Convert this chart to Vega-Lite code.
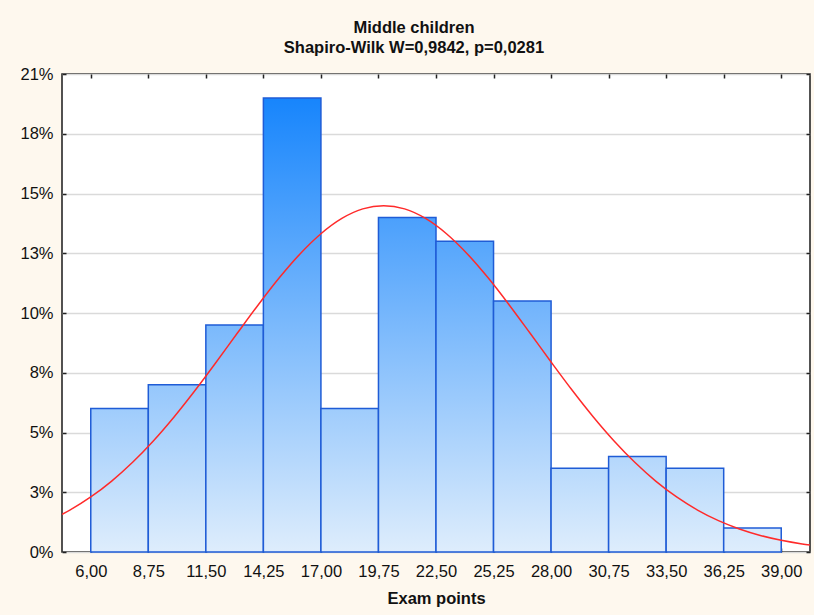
{
  "$schema": "https://vega.github.io/schema/vega-lite/v6.json",
  "width": 748,
  "height": 478,
  "autosize": {"type": "none"},
  "padding": {"left": 62, "top": 74, "right": 4, "bottom": 63},
  "background": "#fef8ee",
  "config": {
    "font": "Liberation Sans",
    "view": {"stroke": "#1a1a1a", "strokeWidth": 1.5, "fill": "white"}
  },
  "title": {
    "text": ["Middle children", "Shapiro-Wilk W=0,9842, p=0,0281"],
    "anchor": "middle",
    "frame": "group",
    "font": "Liberation Sans",
    "fontSize": 16.5,
    "fontWeight": "bold",
    "color": "#111111",
    "lineHeight": 20,
    "baseline": "bottom",
    "offset": -6,
    "dx": -22
  },
  "layer": [
    {
      "data": {
        "values": [
          {"lo": 6, "hi": 8.75, "pct": 0.061856},
          {"lo": 8.75, "hi": 11.5, "pct": 0.072165},
          {"lo": 11.5, "hi": 14.25, "pct": 0.097938},
          {"lo": 14.25, "hi": 17, "pct": 0.195876},
          {"lo": 17, "hi": 19.75, "pct": 0.061856},
          {"lo": 19.75, "hi": 22.5, "pct": 0.14433},
          {"lo": 22.5, "hi": 25.25, "pct": 0.134021},
          {"lo": 25.25, "hi": 28, "pct": 0.108247},
          {"lo": 28, "hi": 30.75, "pct": 0.036082},
          {"lo": 30.75, "hi": 33.5, "pct": 0.041237},
          {"lo": 33.5, "hi": 36.25, "pct": 0.036082},
          {"lo": 36.25, "hi": 39, "pct": 0.010309}
        ]
      },
      "mark": {"type": "rect", "stroke": "#1f5cd6", "strokeWidth": 1.5},
      "encoding": {
        "x": {
          "field": "lo",
          "type": "quantitative",
          "scale": {"domain": [4.625, 40.375], "nice": false, "zero": false},
          "axis": {
            "values": [6, 8.75, 11.5, 14.25, 17, 19.75, 22.5, 25.25, 28, 30.75, 33.5, 36.25, 39],
            "labelExpr": "replace(format(datum.value, '.2f'), '.', ',')",
            "grid": false,
            "domain": false,
            "tickSize": -4,
            "tickColor": "#222222",
            "tickWidth": 1.5,
            "labelPadding": 15,
            "labelFontSize": 16.5,
            "labelColor": "#111111",
            "labelOverlap": false,
            "labelFlush": false,
            "title": "Exam points",
            "titleFontSize": 16.5,
            "titleFontWeight": "bold",
            "titleColor": "#111111",
            "titlePadding": 11
          }
        },
        "x2": {"field": "hi"},
        "y": {
          "field": "pct",
          "type": "quantitative",
          "scale": {"domain": [0, 0.206186], "nice": false},
          "axis": {
            "values": [0, 0.025773, 0.051546, 0.07732, 0.103093, 0.128866, 0.154639, 0.180412, 0.206186],
            "format": ".0%",
            "grid": true,
            "gridColor": "#dadada",
            "gridWidth": 1.5,
            "domain": false,
            "tickSize": -4,
            "tickColor": "#222222",
            "tickWidth": 1.5,
            "labelPadding": 13,
            "labelFontSize": 16.5,
            "labelColor": "#111111",
            "labelOverlap": false,
            "labelFlush": false,
            "title": null
          }
        },
        "y2": {"datum": 0},
        "fill": {
          "condition": [
            {"test": "datum.lo == 6", "value": {"gradient": "linear", "x1": 0, "y1": 0, "x2": 0, "y2": 1, "stops": [{"offset": 0, "color": "#9fccfc"}, {"offset": 1, "color": "#deedfc"}]}},
            {"test": "datum.lo == 8.75", "value": {"gradient": "linear", "x1": 0, "y1": 0, "x2": 0, "y2": 1, "stops": [{"offset": 0, "color": "#95c7fc"}, {"offset": 1, "color": "#deedfc"}]}},
            {"test": "datum.lo == 11.5", "value": {"gradient": "linear", "x1": 0, "y1": 0, "x2": 0, "y2": 1, "stops": [{"offset": 0, "color": "#7ab9fc"}, {"offset": 1, "color": "#deedfc"}]}},
            {"test": "datum.lo == 14.25", "value": {"gradient": "linear", "x1": 0, "y1": 0, "x2": 0, "y2": 1, "stops": [{"offset": 0, "color": "#1785fc"}, {"offset": 1, "color": "#deedfc"}]}},
            {"test": "datum.lo == 17", "value": {"gradient": "linear", "x1": 0, "y1": 0, "x2": 0, "y2": 1, "stops": [{"offset": 0, "color": "#9fccfc"}, {"offset": 1, "color": "#deedfc"}]}},
            {"test": "datum.lo == 19.75", "value": {"gradient": "linear", "x1": 0, "y1": 0, "x2": 0, "y2": 1, "stops": [{"offset": 0, "color": "#4ba0fc"}, {"offset": 1, "color": "#deedfc"}]}},
            {"test": "datum.lo == 22.5", "value": {"gradient": "linear", "x1": 0, "y1": 0, "x2": 0, "y2": 1, "stops": [{"offset": 0, "color": "#56a6fc"}, {"offset": 1, "color": "#deedfc"}]}},
            {"test": "datum.lo == 25.25", "value": {"gradient": "linear", "x1": 0, "y1": 0, "x2": 0, "y2": 1, "stops": [{"offset": 0, "color": "#70b3fc"}, {"offset": 1, "color": "#deedfc"}]}},
            {"test": "datum.lo == 28", "value": {"gradient": "linear", "x1": 0, "y1": 0, "x2": 0, "y2": 1, "stops": [{"offset": 0, "color": "#b9dafc"}, {"offset": 1, "color": "#deedfc"}]}},
            {"test": "datum.lo == 30.75", "value": {"gradient": "linear", "x1": 0, "y1": 0, "x2": 0, "y2": 1, "stops": [{"offset": 0, "color": "#b4d7fc"}, {"offset": 1, "color": "#deedfc"}]}},
            {"test": "datum.lo == 33.5", "value": {"gradient": "linear", "x1": 0, "y1": 0, "x2": 0, "y2": 1, "stops": [{"offset": 0, "color": "#b9dafc"}, {"offset": 1, "color": "#deedfc"}]}}
          ],
          "value": {"gradient": "linear", "x1": 0, "y1": 0, "x2": 0, "y2": 1, "stops": [{"offset": 0, "color": "#d4e8fc"}, {"offset": 1, "color": "#deedfc"}]}
        }
      }
    },
    {
      "data": {
        "values": [
          {"x": 4.625, "y": 0.01626},
          {"x": 5, "y": 0.01809},
          {"x": 6, "y": 0.02375},
          {"x": 7, "y": 0.0306},
          {"x": 8, "y": 0.03869},
          {"x": 9, "y": 0.048},
          {"x": 10, "y": 0.05846},
          {"x": 11, "y": 0.06987},
          {"x": 12, "y": 0.08196},
          {"x": 13, "y": 0.09433},
          {"x": 14, "y": 0.10657},
          {"x": 15, "y": 0.11816},
          {"x": 16, "y": 0.12857},
          {"x": 17, "y": 0.1373},
          {"x": 18, "y": 0.1439},
          {"x": 19, "y": 0.14801},
          {"x": 20, "y": 0.1494},
          {"x": 21, "y": 0.14801},
          {"x": 22, "y": 0.1439},
          {"x": 23, "y": 0.1373},
          {"x": 24, "y": 0.12857},
          {"x": 25, "y": 0.11816},
          {"x": 26, "y": 0.10657},
          {"x": 27, "y": 0.09433},
          {"x": 28, "y": 0.08196},
          {"x": 29, "y": 0.06987},
          {"x": 30, "y": 0.05846},
          {"x": 31, "y": 0.048},
          {"x": 32, "y": 0.03869},
          {"x": 33, "y": 0.0306},
          {"x": 34, "y": 0.02375},
          {"x": 35, "y": 0.01809},
          {"x": 36, "y": 0.01352},
          {"x": 37, "y": 0.00993},
          {"x": 38, "y": 0.00715},
          {"x": 39, "y": 0.00505},
          {"x": 40, "y": 0.0035},
          {"x": 40.375, "y": 0.00304}
        ]
      },
      "mark": {"type": "line", "color": "#ff2a2a", "strokeWidth": 1.5, "interpolate": "monotone", "clip": true},
      "encoding": {
        "x": {
          "field": "x",
          "type": "quantitative",
          "scale": {"domain": [4.625, 40.375], "nice": false, "zero": false},
          "axis": {
            "orient": "top",
            "values": [6, 8.75, 11.5, 14.25, 17, 19.75, 22.5, 25.25, 28, 30.75, 33.5, 36.25, 39],
            "labels": false,
            "grid": false,
            "domain": false,
            "tickSize": -4,
            "tickColor": "#222222",
            "tickWidth": 1.5,
            "title": null
          }
        },
        "y": {
          "field": "y",
          "type": "quantitative",
          "scale": {"domain": [0, 0.206186], "nice": false},
          "axis": {
            "orient": "right",
            "values": [0, 0.025773, 0.051546, 0.07732, 0.103093, 0.128866, 0.154639, 0.180412, 0.206186],
            "labels": false,
            "grid": false,
            "domain": false,
            "tickSize": -4,
            "tickColor": "#222222",
            "tickWidth": 1.5,
            "title": null
          }
        }
      }
    }
  ],
  "resolve": {"axis": {"x": "independent", "y": "independent"}}
}
